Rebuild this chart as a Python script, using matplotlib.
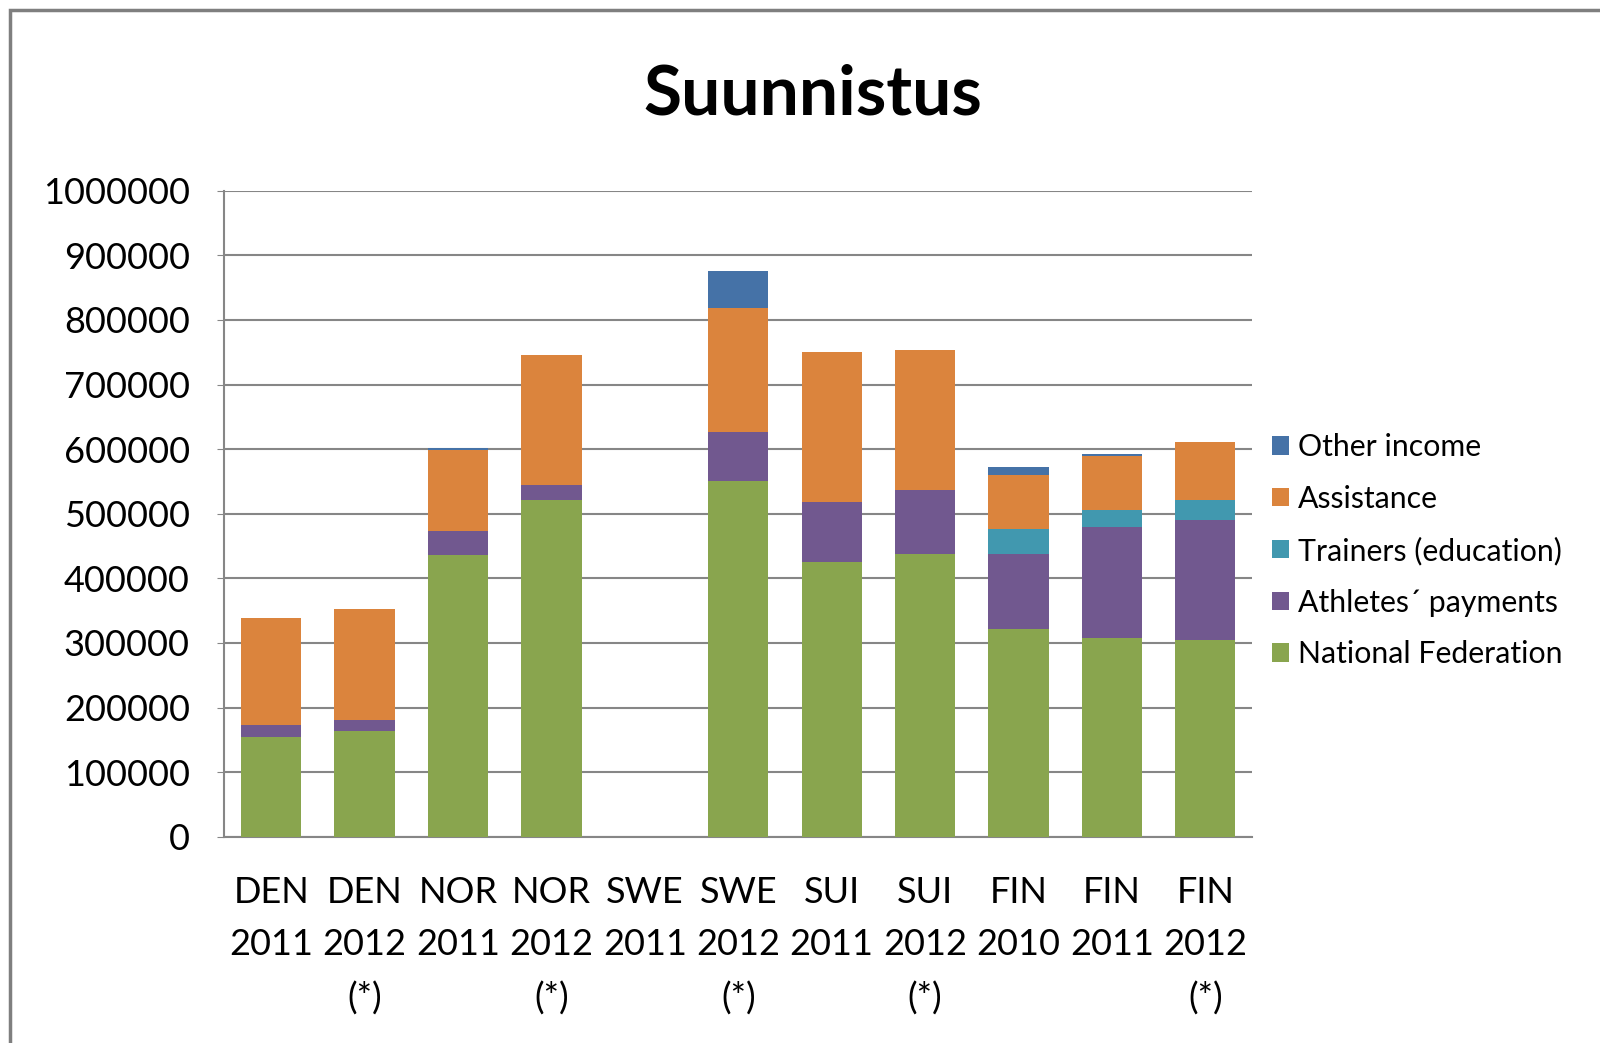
import numpy as np
import matplotlib.pyplot as plt
from matplotlib.patches import Rectangle

plt.rcParams['font.family'] = ['Lato', 'DejaVu Sans']

categories = ['DEN\n2011', 'DEN\n2012\n(*)', 'NOR\n2011', 'NOR\n2012\n(*)', 'SWE\n2011',
              'SWE\n2012\n(*)', 'SUI\n2011', 'SUI\n2012\n(*)', 'FIN\n2010', 'FIN\n2011', 'FIN\n2012\n(*)']

national_federation = [154000, 164000, 436000, 522000, 0, 550000, 426000, 438000, 321000, 307000, 304000]
athletes_payments = [19000, 16000, 38000, 22000, 0, 77000, 92000, 99000, 117000, 173000, 186000]
trainers_education = [0, 0, 0, 0, 0, 0, 0, 0, 39000, 26000, 32000]
assistance = [166000, 172000, 125000, 202000, 0, 191000, 233000, 217000, 83000, 83000, 89000]
other_income = [0, 0, 2000, 0, 0, 58000, 0, 0, 13000, 3000, 0]

series = [
    ('National Federation', national_federation, '#89A54E'),
    ('Athletes\u00b4 payments', athletes_payments, '#71588F'),
    ('Trainers (education)', trainers_education, '#4198AF'),
    ('Assistance', assistance, '#DB843D'),
    ('Other income', other_income, '#4572A7'),
]

fig = plt.figure(figsize=(16, 10.43), dpi=100)
ax = fig.add_axes([0.1403, 0.1978, 0.6422, 0.6193])

x = np.arange(len(categories))
bottom = np.zeros(len(categories))
handles = []
for name, vals, col in series:
    vals = np.array(vals, dtype=float)
    b = ax.bar(x, vals, 0.645, bottom=bottom, color=col, label=name, zorder=3)
    handles.append(b)
    bottom += vals

ax.set_xlim(-0.5, len(categories) - 0.5)
ax.set_ylim(0, 1000000)
ax.set_yticks(np.arange(0, 1000001, 100000))
ax.set_yticklabels([str(v) for v in range(0, 1000001, 100000)], fontsize=26)
ax.set_xticks(x)
ax.set_xticklabels(categories, fontsize=26, linespacing=1.72, va='top')
ax.tick_params(axis='y', length=5, color='#868686', pad=20)
ax.tick_params(axis='x', length=0, pad=28)
ax.grid(axis='y', color='#868686', linewidth=1.5, zorder=0)
for s in ['top', 'right']:
    ax.spines[s].set_visible(False)
for s in ['left', 'bottom']:
    ax.spines[s].set_color('#868686')
    ax.spines[s].set_linewidth(1.5)

fig.text(0.508, 0.909, 'Suunnistus', ha='center', va='center', fontsize=50, fontweight='bold')

fig.legend(handles[::-1], [s[0] for s in series][::-1], loc='center left',
           bbox_to_anchor=(0.778, 0.472), frameon=False, fontsize=21.8,
           handlelength=0.55, handleheight=0.55, handletextpad=0.3, labelspacing=0.78)

# chart frame
fig.patches.append(Rectangle((10 / 1600, -0.1), 1.2, 1 - 10 / 1043 + 0.1, transform=fig.transFigure,
                             fill=False, edgecolor='#7f7f7f', linewidth=2.5))

fig.savefig('out.png', dpi=100)
